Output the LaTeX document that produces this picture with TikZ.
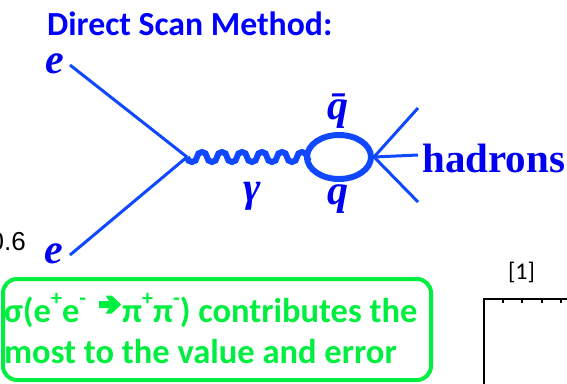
\documentclass[tikz,border=0pt]{standalone}
\usepackage{fontspec}
\setmainfont{Carlito}
\newfontfamily\serif{Liberation Serif}
\newfontfamily\arial{Liberation Sans}
\usetikzlibrary{shapes.geometric}

\definecolor{titleblue}{RGB}{0,0,255}
\definecolor{labelblue}{RGB}{0,0,240}
\definecolor{feynblue}{RGB}{16,72,255}
\definecolor{claimgreen}{RGB}{0,238,64}

% small raised charge sign
\newcommand\charge[1]{\raisebox{0.48em}{\fontsize{22}{22}\selectfont #1}}
% heavy chevron-headed arrow set inline with the text
\newcommand\heavyarrow{\hspace{13pt}\tikz[x=1pt,y=1pt,baseline=0pt]
  \fill (0,14) -- (10,14) -- (6.5,8.5) -- (12.5,8.5) -- (22,17.5)
        -- (12.5,26.5) -- (6.5,26.5) -- (10,21) -- (0,21) -- cycle;\hspace{1pt}}

\tikzset{
  fermion/.style={draw=feynblue, line width=3pt},
  photon/.style={draw=feynblue, line width=6pt},
  particle/.style={font=\serif\bfseries\itshape\fontsize{42}{42}\selectfont,
    text=labelblue, inner sep=0pt, anchor=base},
}

\begin{document}
\begin{tikzpicture}[x=1pt,y=-1pt]
\useasboundingbox (0,0) rectangle (567,383);

% heading
\node[anchor=base west, inner sep=0pt, text=titleblue,
      font=\bfseries\fontsize{33.7}{38}\selectfont] (title) at (47,35) {Direct Scan Method:};

% Feynman diagram: e+ e- -> gamma -> q qbar -> hadrons
\coordinate (v) at (187,157);
\coordinate (ein) at (70,65);
\coordinate (eout) at (70,255);
\node[draw=feynblue, ellipse, line width=6pt, minimum width=64pt,
      minimum height=44pt, inner sep=0pt] (loop) at (339,157) {};
\coordinate (h1) at (418,108);
\coordinate (h2) at (418,155);
\coordinate (h3) at (418,202);

\draw[fermion] (ein) -- (v);
\draw[fermion] (eout) -- (v);
% photon as a chain of half circles
\draw[photon] (v)
  \foreach \i in {1,...,6} {
    arc[start angle=180, end angle=360, radius=5pt]
    arc[start angle=180, end angle=0, radius=5pt]
  } -- (loop.west);
\draw[fermion] (loop.east) -- (h1);
\draw[fermion] (loop.east) -- (h2);
\draw[fermion] (loop.east) -- (h3);

\node[particle] (e1) at (55,73) {e};
\node[particle] (e2) at (54,263) {e};
\node[particle] (gam) at (252,201) {γ};
\node[particle] (qbar) at (338,119) {\={q}};
\node[particle] (q) at (338,204) {q};
\node[anchor=base west, inner sep=0pt, text=labelblue,
      font=\serif\bfseries\fontsize{41}{41}\selectfont] (had) at (422,172) {hadrons};

% fragments of the neighbouring plot
\node[anchor=base east, inner sep=0pt, font=\arial\fontsize{26}{26}\selectfont] (ylab) at (26,250) {0.6};
\node[inner sep=0pt, font=\fontsize{24}{24}\selectfont] (cite) at (521.5,272) {[1]};
\draw[line width=1.5pt] (484,385) -- (484,299) -- (569,299);
\foreach \x in {503,522,542,561}
  \draw[line width=1.2pt] (\x,299) -- (\x,302.5);

% highlighted statement
\node[draw=claimgreen, line width=4pt, rounded corners=14pt,
      minimum width=428pt, minimum height=101pt, inner sep=0pt] (claimbox) at (217,329.5) {};
\node[anchor=base west, inner sep=0pt, align=left, text=claimgreen,
      font=\bfseries\fontsize{34.5}{41}\selectfont] (claim) at (4,363)
  {σ(e\charge{+}e\charge{-}\heavyarrow π\charge{+}π\charge{-}) contributes the\\
   most to the value and error};
\end{tikzpicture}
\end{document}
